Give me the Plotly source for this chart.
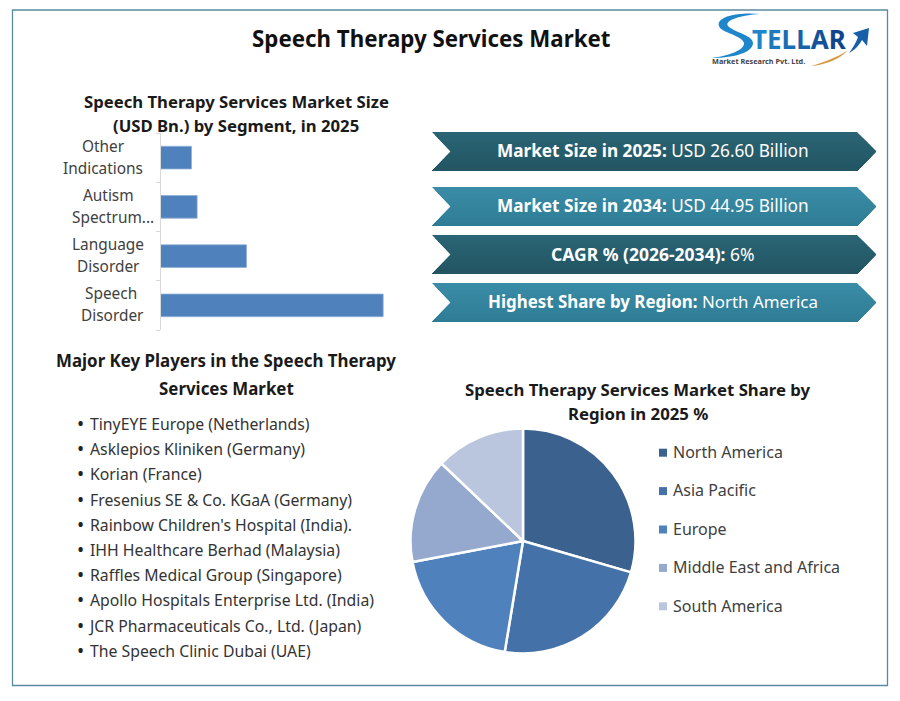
import plotly.graph_objects as go

W, H = 900, 701
FONT = "Noto Sans"

segments = ["Speech Therapy", "Language Disorder", "Autism Spectrum", "Other Indications"]
segment_values = [15.8, 6.1, 2.6, 2.2]
segment_lines = [("Speech", "Disorder"), ("Language", "Disorder"), ("Autism", "Spectrum..."), ("Other", "Indications")]
segment_label_x = [(111, 112), (108, 108), (108, 113), (103, 103)]
segment_label_nudge = [0, 0, -1, -1]

regions = ["North America", "Asia Pacific", "Europe", "Middle East and Africa", "South America"]
region_share = [29.5, 23.1, 19.4, 15.1, 12.9]
region_colors = ["#3b618f", "#4472a8", "#4f81bd", "#95a9cf", "#b9c6de"]

players = [
    "TinyEYE Europe (Netherlands)",
    "Asklepios Kliniken (Germany)",
    "Korian (France)",
    "Fresenius SE & Co. KGaA (Germany)",
    "Rainbow Children's Hospital (India).",
    "IHH Healthcare Berhad (Malaysia)",
    "Raffles Medical Group (Singapore)",
    "Apollo Hospitals Enterprise Ltd. (India)",
    "JCR Pharmaceuticals Co., Ltd. (Japan)",
    "The Speech Clinic Dubai (UAE)",
]

banner_text = [
    ("Market Size in 2025:", "USD 26.60 Billion"),
    ("Market Size in 2034:", "USD 44.95 Billion"),
    ("CAGR % (2026-2034):", "6%"),
    ("Highest Share by Region:", "North America"),
]
banner_top = [132, 187, 235, 283]
banner_size = [17.2, 17.2, 17.5, 16.9]
# top and bottom colour of each banner
banner_colors = [((42, 100, 116), (34, 84, 98)), ((58, 139, 166), (46, 124, 148)),
                 ((42, 100, 116), (34, 84, 98)), ((58, 139, 166), (46, 124, 148))]


def px(x):
    return x / W


def py(y):
    return 1 - y / H


def text(x, y, s, size=15, color="#262626", anchor="center", bold=False):
    if bold:
        s = "<b>" + s + "</b>"
    # annotations sit about a pixel low and right of the asked position
    if anchor == "left":
        x -= 2
    return dict(x=px(x), y=py(y - 1), xref="paper", yref="paper", text=s, showarrow=False,
                xanchor=anchor, yanchor="middle", font=dict(family=FONT, size=size, color=color))


def path_shape(path, fill):
    return dict(type="path", xref="paper", yref="paper", path=path, fillcolor=fill,
                line=dict(width=0), layer="above")


def pts(points):
    return "M" + " L".join(f"{px(x):.5f},{py(y):.5f}" for x, y in points) + " Z"


def curve(cmds):
    out = []
    for c, coords in cmds:
        out.append(c + " ".join(f"{px(x):.5f},{py(y):.5f}" for x, y in coords))
    return " ".join(out) + " Z"


def chevron_from(y, top, bottom):
    # part of the banner below y, later bands paint over earlier ones
    mid = (top + bottom) / 2
    d = (mid - y) / (mid - top) * 19 if y < mid else 0
    left = 451 - d
    right = 857 + 19 - d
    p = [(left, y), (right, y)]
    if y < mid:
        p.append((876, mid))
    p += [(857, bottom), (432, bottom)]
    if y < mid:
        p.append((451, mid))
    else:
        d2 = (y - mid) / (bottom - mid) * 19
        p[0] = (451 - d2, y)
        p[1] = (876 - d2, y)
    return p


fig = go.Figure()

# bars
fig.add_trace(go.Bar(
    y=segments, x=segment_values, orientation="h",
    marker=dict(color="#4f81bd", line=dict(color="#8fb0d8", width=0.8)),
    showlegend=False, hoverinfo="x+y",
))

# pie
fig.add_trace(go.Pie(
    labels=regions, values=region_share, sort=False, direction="clockwise", rotation=0,
    marker=dict(colors=region_colors, line=dict(color="white", width=2.5)),
    textinfo="none", showlegend=False,
    domain=dict(x=[px(410.5), px(635.5)], y=[py(653.5), py(428.5)]),
))

shapes = []
annotations = []

# outer frame
shapes.append(dict(type="rect", xref="paper", yref="paper", x0=px(12.5), x1=px(887.5), y0=py(685.5), y1=py(10),
                   line=dict(color="#5a8a9e", width=1.3), fillcolor="rgba(0,0,0,0)"))

annotations.append(text(431, 39.5, "Speech Therapy Services Market", 22.3, "#111111", bold=True))
annotations.append(text(236, 102, "Speech Therapy Services Market Size", 16.7, "#1a1a1a", bold=True))
annotations.append(text(236, 126, "(USD Bn.) by Segment, in 2025", 16.7, "#1a1a1a", bold=True))
annotations.append(text(226, 361, "Major Key Players in the Speech Therapy", 16.9, "#1a1a1a", bold=True))
annotations.append(text(226, 389, "Services Market", 16.9, "#1a1a1a", bold=True))
annotations.append(text(638, 390, "Speech Therapy Services Market Share by", 16.75, "#1a1a1a", bold=True))
annotations.append(text(638, 414, "Region in 2025 %", 16.75, "#1a1a1a", bold=True))

# category labels, two lines each
for cat, lines, xs, nudge in zip(segments, segment_lines, segment_label_x, segment_label_nudge):
    for line, x, shift in zip(lines, xs, (12, -10)):
        annotations.append(dict(x=px(x), xref="paper", y=cat, yref="y", yshift=shift + nudge, text=line,
                                showarrow=False, xanchor="center", yanchor="middle",
                                font=dict(family=FONT, size=15.4, color="#404040")))

# banners, vertical gradient built from bands
BANDS = 13
for top, (c0, c1), (head, rest), size in zip(banner_top, banner_colors, banner_text, banner_size):
    bottom = top + 39
    mid = (top + bottom) / 2
    for k in range(BANDS):
        t = k / BANDS
        y = top + t * 39
        col = tuple(round(a + (b - a) * t) for a, b in zip(c0, c1))
        shapes.append(path_shape(pts(chevron_from(y, top, bottom)), f"rgb{col}"))
    annotations.append(text(653, mid, f"<b>{head}</b> {rest}", size, "white"))

# key players list
for i, name in enumerate(players):
    y = 425 + i * 25.2
    annotations.append(text(80, y, "\u2022", 19, "#222222"))
    # the J overhangs its box, so it lands too far right otherwise
    annotations.append(text(88 if name.startswith("J") else 90, y, name, 15.8, "#333333", anchor="left"))

# pie legend
for i, (name, color) in enumerate(zip(regions, region_colors)):
    y = 452.7 + i * 38.4
    shapes.append(dict(type="rect", xref="paper", yref="paper", x0=px(659), x1=px(667), y0=py(y + 4), y1=py(y - 4),
                       fillcolor=color, line=dict(width=0)))
    annotations.append(text(673, y + 0.3, name, 16, "#404040", anchor="left"))

# logo
shapes.append(path_shape(curve([
    ("M", [(760, 14)]),
    ("C", [(740, 12), (716, 16), (719, 26)]),
    ("C", [(721, 33), (742, 35), (744, 43)]),
    ("C", [(745, 50), (728, 56), (712, 58)]),
    ("C", [(732, 58), (753, 53), (753, 43)]),
    ("C", [(753, 35), (733, 32), (728, 26)]),
    ("C", [(724, 20), (742, 15), (760, 14)]),
]), "#1f86cc"))
shapes.append(path_shape(curve([
    ("M", [(811, 66)]),
    ("C", [(826, 65), (840, 59), (848, 50)]),
    ("C", [(838, 57), (825, 62), (811, 66)]),
]), "#d99a45"))
shapes.append(path_shape(curve([
    ("M", [(849, 53)]),
    ("C", [(855, 50), (860, 44), (862, 40)]),
    ("L", [(867, 46)]),
    ("L", [(869, 28)]),
    ("L", [(853, 33)]),
    ("L", [(858, 37)]),
    ("C", [(856, 43), (852, 49), (849, 53)]),
]), "#1560a8"))
logo_letters = [("T", "#1f86c8"), ("E", "#1d79bd"), ("L", "#1a6db2"), ("L", "#1862a8"), ("A", "#14539a"), ("R", "#10448c")]
logo = "".join(f'<span style="color:{c}">{ch}</span>' for ch, c in logo_letters)
annotations.append(text(799.5, 40, logo, 26, "#1a6db2", bold=True))
annotations.append(text(758, 62, "Market Research Pvt. Ltd.", 7.3, "#444444", bold=True))

fig.update_layout(
    width=W, height=H, margin=dict(l=0, r=0, t=0, b=0),
    paper_bgcolor="white", plot_bgcolor="white",
    bargap=0.54,
    xaxis=dict(domain=[px(160.5), px(386)], range=[0, 16], visible=False),
    yaxis=dict(domain=[py(330), py(133)], showticklabels=False, tickson="boundaries", ticks="outside",
               ticklen=4, tickcolor="#d9d9d9", showline=True, linecolor="#d9d9d9", showgrid=False),
    shapes=shapes, annotations=annotations,
)

fig.write_html("out.html", config=dict(displayModeBar=False),
               post_script="document.body.style.margin='0';")
